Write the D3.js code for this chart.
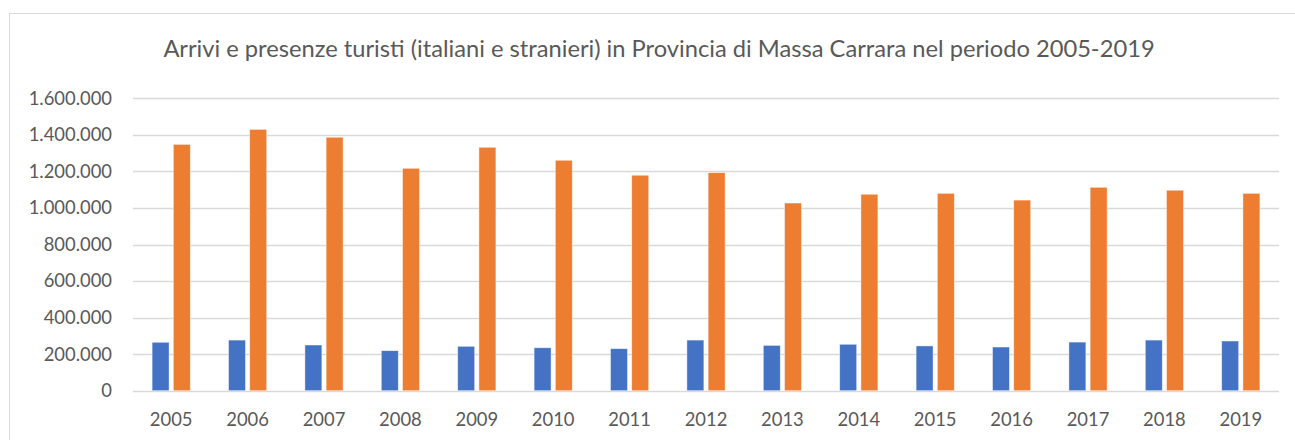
<!DOCTYPE html>
<html>
<head>
<meta charset="utf-8">
<script src="https://cdn.jsdelivr.net/npm/d3@7"></script>
<style>
  html, body { margin: 0; padding: 0; background: #fff; }
  svg text { font-family: Lato, "Open Sans", sans-serif; fill: #595959; }
</style>
</head>
<body>
<svg id="chart" width="1295" height="440"></svg>
<script>
// data
const years = ['2005', '2006', '2007', '2008', '2009', '2010', '2011', '2012',
               '2013', '2014', '2015', '2016', '2017', '2018', '2019'];
const arrivi = [265000, 277000, 250000, 219000, 243000, 235000, 230000, 277000,
                248000, 254000, 245000, 239000, 266000, 277000, 272000];
const presenze = [1348000, 1430000, 1387000, 1217000, 1332000, 1261000, 1179000, 1193000,
                  1027000, 1075000, 1080000, 1043000, 1113000, 1097000, 1080000];
const yTicks = [0, 200000, 400000, 600000, 800000, 1000000, 1200000, 1400000, 1600000];
const seriesNames = ['Arrivi', 'Presenze'];
const seriesColors = ['#4472C4', '#ED7D31'];
const title = 'Arrivi e presenze turisti (italiani e stranieri) in Provincia di Massa Carrara nel periodo 2005-2019';

const svg = d3.select('#chart');
const margin = { left: 133, right: 1279, top: 98.3, bottom: 390.7 };

// chart frame
svg.append('rect')
    .attr('x', 9.5).attr('y', 13.5)
    .attr('width', 1300).attr('height', 440)
    .attr('fill', 'none')
    .attr('stroke', '#D9D9D9')
    .attr('stroke-width', 1);

const itLocale = d3.formatLocale({ decimal: ',', thousands: '.', grouping: [3], currency: ['€', ''] });
const fmt = itLocale.format(',d');

const x = d3.scaleBand()
    .domain(years)
    .range([margin.left, margin.right])
    .paddingInner(0.5)
    .paddingOuter(0.25);

const xs = d3.scaleBand()
    .domain(seriesNames)
    .range([0, x.bandwidth()])
    .paddingInner(0.2);

const y = d3.scaleLinear()
    .domain([0, 1600000])
    .range([margin.bottom, margin.top]);

// gridlines
svg.append('g')
    .selectAll('line')
    .data(yTicks)
    .join('line')
    .attr('x1', margin.left)
    .attr('x2', margin.right)
    .attr('y1', d => Math.round(y(d)) + 0.5)
    .attr('y2', d => Math.round(y(d)) + 0.5)
    .attr('stroke', '#D9D9D9')
    .attr('stroke-width', 1.3);

// y axis labels
const yAxis = svg.append('g')
    .attr('transform', `translate(${margin.left}, 0)`)
    .call(d3.axisLeft(y).tickValues(yTicks).tickFormat(fmt).tickSize(0).tickPadding(21));
yAxis.select('.domain').remove();
yAxis.selectAll('text')
    .style('font-size', '18.4px')
    .attr('fill', '#595959');

// x axis labels
const xAxis = svg.append('g')
    .attr('transform', `translate(0, ${margin.bottom})`)
    .call(d3.axisBottom(x).tickSize(0).tickPadding(22));
xAxis.select('.domain').remove();
xAxis.selectAll('text')
    .style('font-size', '18.4px')
    .attr('fill', '#595959');

// bars
const seriesData = [arrivi, presenze];
const groups = svg.append('g')
    .selectAll('g')
    .data(seriesNames)
    .join('g')
    .attr('fill', (d, i) => seriesColors[i]);

groups.selectAll('rect')
    .data((name, i) => years.map((yr, j) => ({ year: yr, series: name, value: seriesData[i][j] })))
    .join('rect')
    .attr('x', d => x(d.year) + xs(d.series))
    .attr('width', xs.bandwidth())
    .attr('y', d => y(d.value))
    .attr('height', d => y(0) - y(d.value))
    .attr('stroke', '#fff')
    .attr('stroke-opacity', 0.6)
    .attr('stroke-width', 0.75);

// title
svg.append('text')
    .attr('x', 659)
    .attr('y', 57)
    .attr('text-anchor', 'middle')
    .style('font-size', '23.7px')
    .text(title);
</script>
</body>
</html>
